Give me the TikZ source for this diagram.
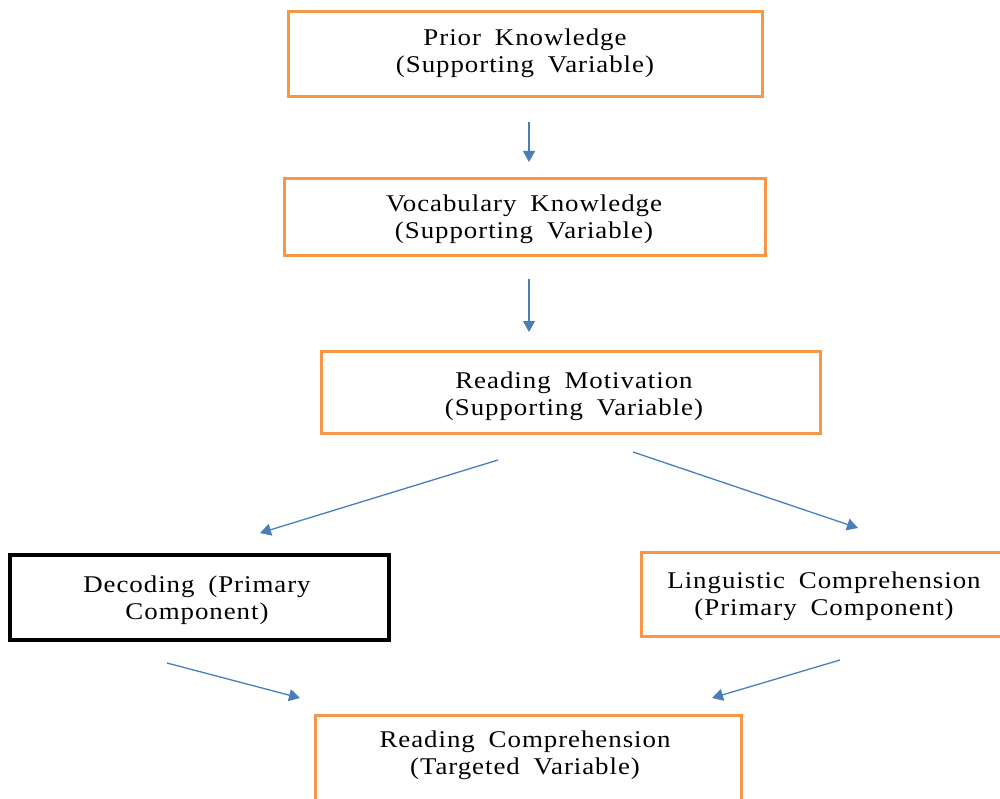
\documentclass[tikz,border=0pt]{standalone}
\usepackage{fontspec}
\setmainfont{Liberation Serif}[FakeStretch=1.12,LetterSpace=4,WordSpace=1.8]
\usetikzlibrary{arrows.meta}
\definecolor{boxorange}{HTML}{F79646}
\definecolor{arrowblue}{HTML}{4A7EBB}
\begin{document}
\begin{tikzpicture}[x=1pt,y=-1pt,
  obox/.style={draw=boxorange,line width=3pt,fill=white,inner sep=0pt},
  kbox/.style={draw=black,line width=3.5pt,fill=white,inner sep=0pt},
  txt/.style={align=center,inner sep=0pt,font=\fontsize{24}{27}\selectfont},
  arr/.style={draw=arrowblue,line width=1.3pt,-{Triangle[length=11pt,width=12pt]}}]
\useasboundingbox (0,0) rectangle (1000,799);
\clip (0,0) rectangle (1000,799);
\node[obox,minimum width=474pt,minimum height=85pt] (prior) at (525,54.5) {};
\node[txt] (priorT) at (525,53.5) {Prior Knowledge\\(Supporting Variable)};
\node[obox,minimum width=481pt,minimum height=77pt] (vocab) at (524.5,217.5) {};
\node[txt] (vocabT) at (524,219.5) {Vocabulary Knowledge\\(Supporting Variable)};
\node[obox,minimum width=499pt,minimum height=82pt] (motiv) at (570.5,392) {};
\node[txt] (motivT) at (574,396) {Reading Motivation\\ (Supporting Variable)};
\node[kbox,minimum width=379pt,minimum height=85pt] (decod) at (199.5,597.5) {};
\node[txt] (decodT) at (197,600.5) {Decoding (Primary\\Component)};
\node[obox,minimum width=380pt,minimum height=84pt] (ling) at (831,594) {};
\node[txt] (lingT) at (824,596.5) {Linguistic Comprehension\\(Primary Component)};
\node[obox,minimum width=426pt,minimum height=100pt] (rc) at (528,765) {};
\node[txt] (rcT) at (525,755.5) {Reading Comprehension\\(Targeted Variable)};
\coordinate (a1s) at (529,122); \coordinate (a1e) at (529,162);
\coordinate (a2s) at (529,279); \coordinate (a2e) at (529,332);
\coordinate (a3s) at (498,460); \coordinate (a3e) at (260,533);
\coordinate (a4s) at (633,452); \coordinate (a4e) at (858,528);
\coordinate (a5s) at (167,663); \coordinate (a5e) at (300,698);
\coordinate (a6s) at (840,660); \coordinate (a6e) at (712,698);
\draw[arr] (a1s) -- (a1e);
\draw[arr] (a2s) -- (a2e);
\draw[arr] (a3s) -- (a3e);
\draw[arr] (a4s) -- (a4e);
\draw[arr] (a5s) -- (a5e);
\draw[arr] (a6s) -- (a6e);
\end{tikzpicture}
\end{document}
